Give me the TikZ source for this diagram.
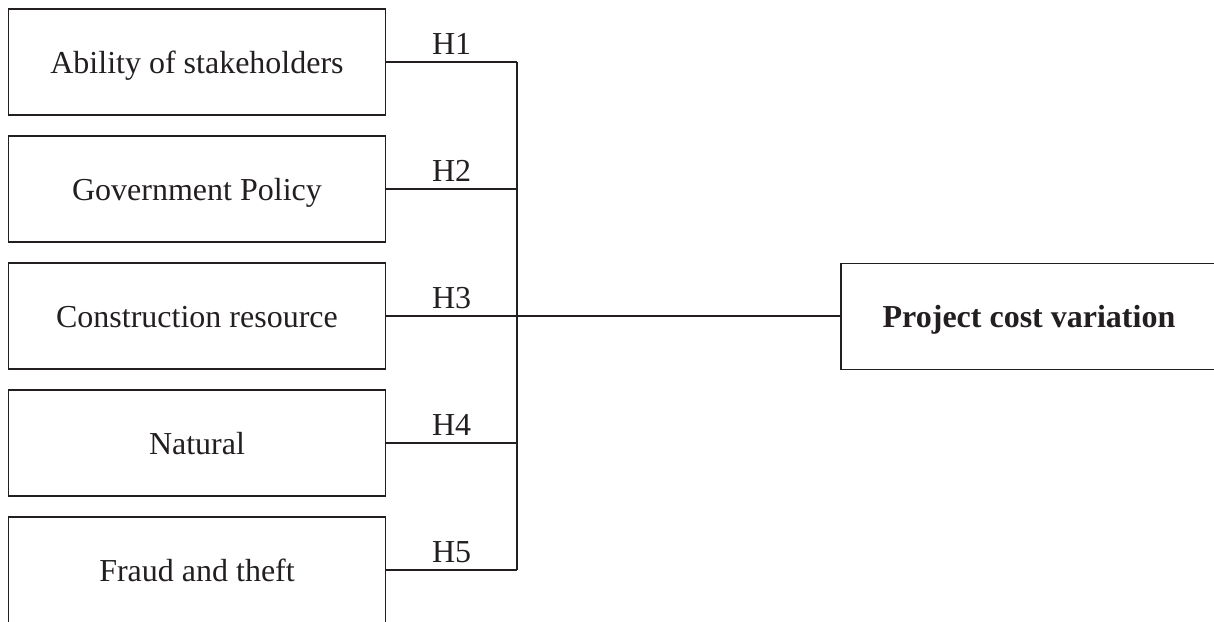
\documentclass[tikz,border=0pt]{standalone}
\usepackage{fontspec}
\setmainfont{Liberation Serif}
\definecolor{ink}{RGB}{35,31,32}
\tikzset{
  factor/.style={draw=ink, line width=1.3pt, rectangle, inner sep=0pt,
    minimum width=377pt, minimum height=106pt,
    text height=22pt, text depth=0pt, text=ink,
    font=\fontsize{32}{38}\selectfont},
  outcome/.style={factor, minimum width=376pt, font=\fontsize{32}{38}\selectfont\bfseries},
  link/.style={draw=ink, line width=1.3pt},
  hlabel/.style={midway, anchor=base, yshift=7.5pt, inner sep=0pt, text=ink,
    font=\fontsize{32}{38}\selectfont}
}
\begin{document}
\begin{tikzpicture}[x=1pt,y=-1pt]
  \useasboundingbox (0,0) rectangle (1214,621);
  \clip (0,0) rectangle (1214,621);

  % independent factors
  \node[factor] (f1) at (197,62)  {Ability of stakeholders};
  \node[factor] (f2) at (197,189) {Government Policy};
  \node[factor] (f3) at (197,316) {Construction resource};
  \node[factor] (f4) at (197,443) {Natural};
  \node[factor] (f5) at (197,570) {Fraud and theft};

  % dependent variable
  \node[outcome] (pcv) at (1029,316.5) {Project cost variation};

  % junction points on the collecting bus
  \coordinate (j1) at (517,62);
  \coordinate (j2) at (517,189);
  \coordinate (j3) at (517,316);
  \coordinate (j4) at (517,443);
  \coordinate (j5) at (517,570);

  % hypothesis links
  \draw[link] (f1.east) -- node[hlabel] {H1} (j1);
  \draw[link] (f2.east) -- node[hlabel] {H2} (j2);
  \draw[link] (f3.east) -- node[hlabel] {H3} (j3);
  \draw[link] (f4.east) -- node[hlabel] {H4} (j4);
  \draw[link] (f5.east) -- node[hlabel] {H5} (j5);

  % bus and output line
  \draw[link] (j1) -- (j5);
  \draw[link] (j3) -- (pcv.west |- j3);
\end{tikzpicture}
\end{document}
